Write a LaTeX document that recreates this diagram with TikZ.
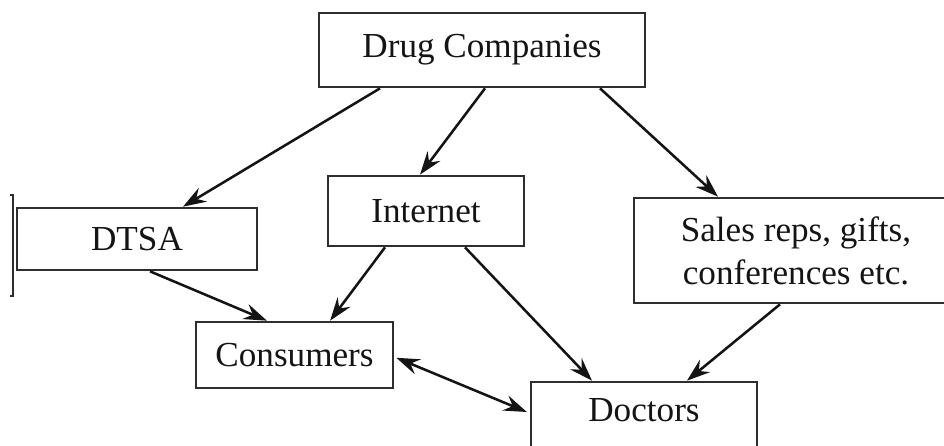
\documentclass[tikz,border=0pt]{standalone}
\usepackage{fontspec}
\setmainfont{Liberation Serif}
\usetikzlibrary{arrows.meta}
\definecolor{ink}{HTML}{141414}
\definecolor{frame}{HTML}{2E2E2E}

\begin{document}
\begin{tikzpicture}[font=\fontsize{25}{30.5}\selectfont,text=ink,
    >={Stealth[length=0.58cm,width=0.4cm,inset=0.2cm]},
    box/.style={draw=frame,line width=1.9pt,inner sep=0pt,align=center},
    flow/.style={ink,line width=1.8pt,->}]
  \useasboundingbox (0,0) rectangle (23.6,-11.15);
  \clip (0,0) rectangle (23.6,-11.15);

  \node[box,minimum width=8.15cm,minimum height=1.85cm] (drug)
    at (12.05,-1.25) {Drug Companies};
  \node[box,minimum width=6cm,minimum height=1.55cm] (dtsa)
    at (3.425,-5.975) {DTSA};
  \node[box,minimum width=4.9cm,minimum height=1.75cm] (internet)
    at (10.65,-5.275) {Internet};
  \node[box,minimum width=8.1cm,minimum height=2.625cm] (sales)
    at (19.9,-6.2625) {Sales reps, gifts,\\conferences etc.};
  \node[box,minimum width=4.925cm,minimum height=1.65cm] (consumers)
    at (7.3625,-8.875) {Consumers};
  \node[box,minimum width=5.65cm,minimum height=1.8cm,text depth=0.4cm]
    (doctors) at (16.1,-10.45) {Doctors};

  % stray bracket at the left edge
  \draw[frame,line width=1.6pt] (0.25,-4.875) -- (0.325,-4.875)
    -- (0.325,-7.4) -- (0.25,-7.4);

  \draw[flow] ([xshift=-2.55cm]drug.south) -- ([xshift=1.15cm]dtsa.north);
  \draw[flow] ([xshift=0.075cm]drug.south) -- ([xshift=-0.15cm]internet.north);
  \draw[flow] ([xshift=2.95cm]drug.south) -- ([xshift=-1.95cm]sales.north);
  \draw[flow] ([xshift=0.325cm]dtsa.south) -- ([xshift=-0.69cm]consumers.north);
  \draw[flow] ([xshift=-1.025cm]internet.south)
    -- ([xshift=0.89cm]consumers.north);
  \draw[flow] ([xshift=0.975cm]internet.south)
    -- ([xshift=-1.3cm]doctors.north);
  \draw[flow] ([xshift=-0.4cm]sales.south) -- ([xshift=1.075cm]doctors.north);
  \draw[flow,<->] ([xshift=0.05cm,yshift=-0.07cm]consumers.east)
    -- ([xshift=-0.07cm,yshift=0.15cm]doctors.west);
\end{tikzpicture}
\end{document}
